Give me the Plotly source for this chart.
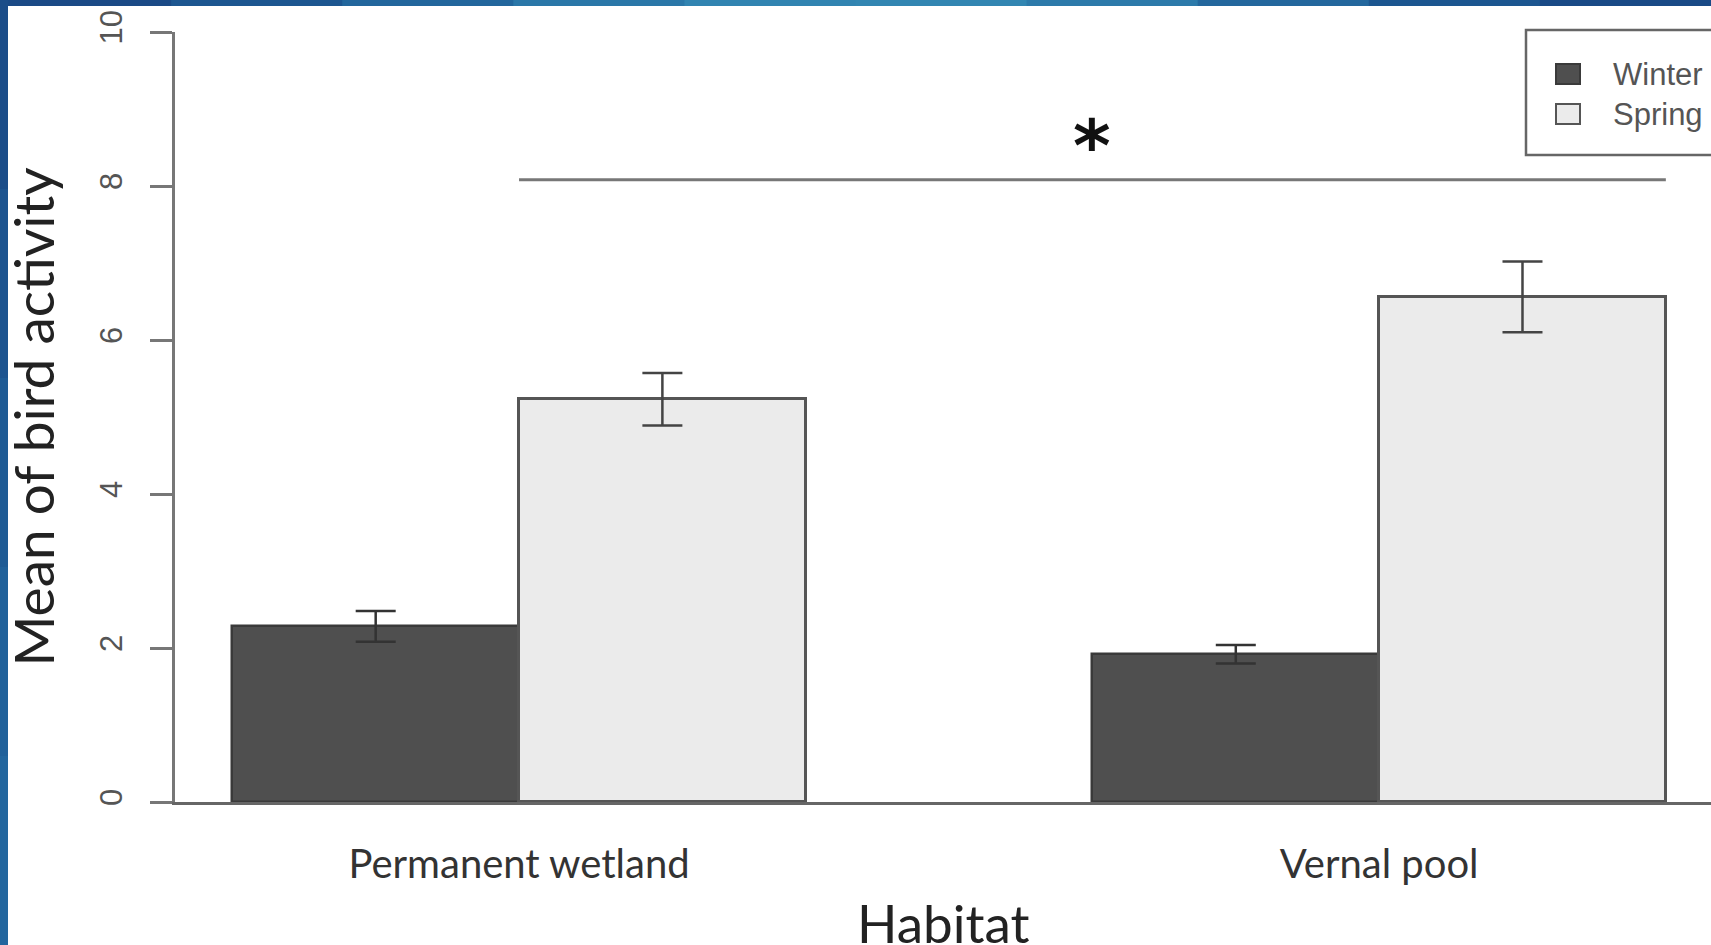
import plotly.graph_objects as go

# ---------------- data ----------------
categories = ["Permanent wetland", "Vernal pool"]
seasons = ["Winter", "Spring"]
winter_mean = [2.28, 1.92]
winter_se = [0.20, 0.12]
spring_mean = [5.23, 6.56]
spring_se = [0.34, 0.46]
y_ticks = [0, 2, 4, 6, 8, 10]
sig_x0, sig_x1, sig_y = 2, 6, 8.08   # significance line (bar units)
sig_label = "*"
x_title = "Habitat"
y_title = "Mean of bird activity"

# R barplot(beside=TRUE) layout: groups centred at 2 and 5, bars of width 1
group_centers = [2, 5]
winter_x = [c - 0.5 for c in group_centers]
spring_x = [c + 0.5 for c in group_centers]

W, H = 1711, 945
ML, MR, MT, MB = 175, 0, 32, 143
PW, PH = W - ML - MR, H - MT - MB


def px(xp):
    return (xp - ML) / PW


def py(yp):
    return (H - MB - yp) / PH


fig = go.Figure()
fig.add_trace(go.Bar(
    name=seasons[0], x=winter_x, y=winter_mean, width=1,
    marker=dict(color="#4f4f4f", line=dict(color="#3a3a3a", width=2.5)),
    error_y=dict(type="data", array=winter_se, color="#333333", thickness=2.5, width=20),
    showlegend=False,
))
fig.add_trace(go.Bar(
    name=seasons[1], x=spring_x, y=spring_mean, width=1,
    marker=dict(color="#ebebeb", line=dict(color="#555555", width=3)),
    error_y=dict(type="data", array=spring_se, color="#444444", thickness=2.5, width=20),
    showlegend=False,
))

shapes = []
# blue frame (gradient approximated with segments)
top_cols = ["#1a4a86", "#1d5690", "#22669c", "#2a77a8", "#3184b1", "#3286b2",
            "#2c7aaa", "#23679d", "#1c5690", "#194a86"]
n = len(top_cols)
for i, c in enumerate(top_cols):
    shapes.append(dict(type="rect", xref="paper", yref="paper",
                       x0=px(W * i / n), x1=px(W * (i + 1) / n + 1),
                       y0=py(6), y1=py(0), fillcolor=c, line=dict(width=0), layer="below"))
left_cols = ["#1b4d89", "#1d548f", "#1f5b95", "#21619a", "#23669e"]
m = len(left_cols)
for i, c in enumerate(left_cols):
    shapes.append(dict(type="rect", xref="paper", yref="paper",
                       x0=px(0), x1=px(8),
                       y0=py(H * (i + 1) / m + 1), y1=py(H * i / m),
                       fillcolor=c, line=dict(width=0), layer="below"))

# significance line
shapes.append(dict(type="line", xref="x", yref="y", x0=sig_x0, x1=sig_x1, y0=sig_y, y1=sig_y,
                   line=dict(color="#777777", width=3)))

# legend box (drawn by hand, R style)
shapes.append(dict(type="rect", xref="paper", yref="paper",
                   x0=px(1526), x1=px(1760), y0=py(155), y1=py(30),
                   fillcolor="white", line=dict(color="#666666", width=2.5)))
leg_fill = ["#4f4f4f", "#ebebeb"]
leg_line = ["#3a3a3a", "#555555"]
leg_y = [74, 114]
for f, l, yc in zip(leg_fill, leg_line, leg_y):
    shapes.append(dict(type="rect", xref="paper", yref="paper",
                       x0=px(1556), x1=px(1580), y0=py(yc + 10), y1=py(yc - 10),
                       fillcolor=f, line=dict(color=l, width=2)))

annotations = []
for s, yc in zip(seasons, leg_y):
    annotations.append(dict(xref="paper", yref="paper", x=px(1611), y=py(yc),
                            xanchor="left", yanchor="middle", showarrow=False, text=s,
                            font=dict(family="Liberation Sans", size=31, color="#555555")))
annotations.append(dict(xref="x", yref="y", x=(sig_x0 + sig_x1) / 2, y=sig_y, yanchor="bottom",
                        showarrow=False, text="<b>" + sig_label + "</b>", yshift=-10,
                        font=dict(family="DejaVu Sans", size=72, color="#111111")))
# x-axis title placed precisely
annotations.append(dict(xref="paper", yref="paper", x=0.5, y=py(922),
                        xanchor="center", yanchor="middle", showarrow=False, text=x_title,
                        font=dict(family="Lato", size=53, color="#222222")))

fig.update_layout(
    width=W, height=H, autosize=False,
    margin=dict(l=ML, r=MR, t=MT, b=MB, pad=0),
    paper_bgcolor="white", plot_bgcolor="white",
    barmode="overlay", bargap=0,
    shapes=shapes, annotations=annotations,
    showlegend=False,
    xaxis=dict(
        range=[0.8, 0.8 + PW / 286.7], showgrid=False, zeroline=False,
        showline=True, linecolor="#666666", linewidth=2.5,
        tickmode="array", tickvals=group_centers, ticktext=categories,
        ticks="", ticklabelstandoff=25,
        tickfont=dict(family="Lato", size=40, color="#333333"),
        automargin=False,
    ),
    yaxis=dict(
        range=[0, 10], showgrid=False, zeroline=False,
        showline=True, linecolor="#777777", linewidth=2.5,
        tickmode="array", tickvals=y_ticks, ticktext=[str(v) for v in y_ticks],
        ticks="outside", ticklen=22, tickwidth=2.5, tickcolor="#777777",
        tickangle=-90, ticklabelstandoff=16,
        tickfont=dict(family="Liberation Sans", size=31, color="#555555"),
        title=dict(text=y_title, standoff=28,
                   font=dict(family="Lato", size=55, color="#222222")),
        automargin=False,
    ),
)

fig.write_html("out.html", config={"displayModeBar": False},
               post_script="document.body.style.margin='0';")
